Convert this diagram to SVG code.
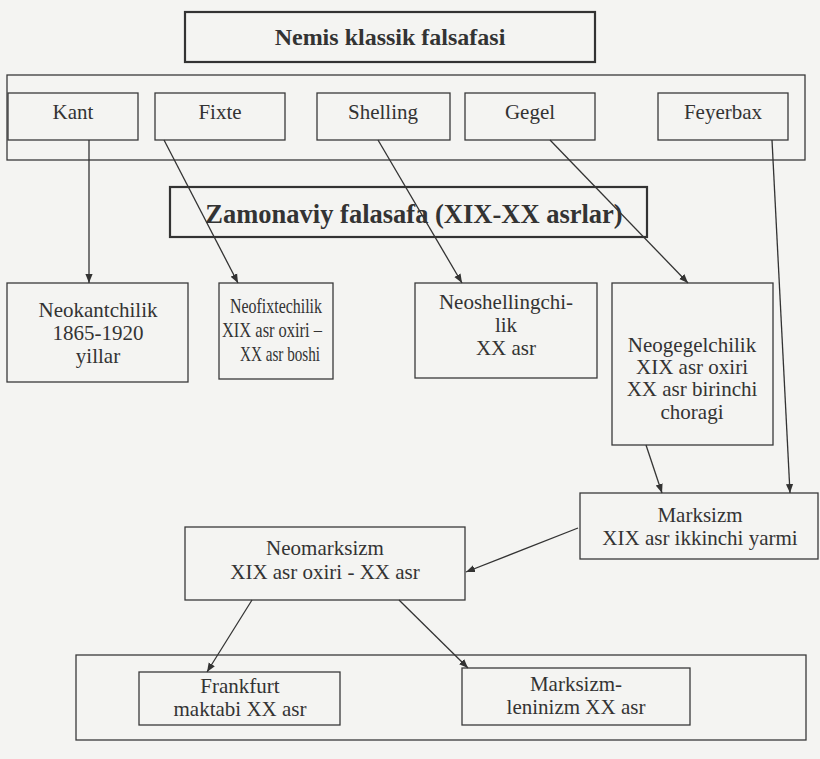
<svg xmlns="http://www.w3.org/2000/svg" width="820" height="759" viewBox="0 0 820 759">
<defs>
<style>
.box{fill:none;stroke:#3a3a3a;stroke-width:1.3}
.tbox{fill:none;stroke:#333;stroke-width:2.2}
.t{font-family:"Liberation Serif","Times New Roman",serif;font-size:21px;fill:#333;text-anchor:middle}
.b{font-family:"Liberation Serif","Times New Roman",serif;font-weight:bold;fill:#333;text-anchor:middle}
.c{stroke:#333;stroke-width:1.3;fill:none;marker-end:url(#ah)}
</style>
<marker id="ah" viewBox="0 0 10 10" refX="10" refY="5" markerWidth="9" markerHeight="9" markerUnits="userSpaceOnUse" orient="auto">
<path d="M0,1 L10,5 L0,9 Z" fill="#333"/>
</marker>
</defs>
<rect width="820" height="759" fill="#f4f4f2"/>
<g id="title"><rect class="tbox" x="185" y="12" width="410" height="50"/><text class="b" x="390" y="45" font-size="24">Nemis klassik falsafasi</text></g>
<g id="classics"><rect class="box" x="7" y="75" width="798" height="85"/></g>
<g id="kant"><rect class="box" x="8" y="93" width="130" height="47"/><text class="t" x="73" y="119">Kant</text></g>
<g id="fixte"><rect class="box" x="155" y="93" width="130" height="47"/><text class="t" x="220" y="119">Fixte</text></g>
<g id="shelling"><rect class="box" x="317" y="93" width="133" height="47"/><text class="t" x="383" y="119">Shelling</text></g>
<g id="gegel"><rect class="box" x="465" y="93" width="130" height="47"/><text class="t" x="530" y="119">Gegel</text></g>
<g id="feyerbax"><rect class="box" x="658" y="93" width="130" height="47"/><text class="t" x="723" y="119">Feyerbax</text></g>
<g id="zamonaviy"><rect class="tbox" x="170" y="187" width="477" height="50"/><text class="b" x="414" y="223" font-size="26.5">Zamonaviy falasafa (XIX-XX asrlar)</text></g>
<g id="neokant"><rect class="box" x="7" y="283" width="181" height="99"/><text class="t" x="98" y="317">Neokantchilik</text><text class="t" x="98" y="340">1865-1920</text><text class="t" x="98" y="363">yillar</text></g>
<g id="neofixte"><rect class="box" x="219" y="283" width="114" height="96"/><text class="t" x="276" y="313" font-size="20" textLength="92" lengthAdjust="spacingAndGlyphs">Neofixtechilik</text><text class="t" x="272" y="337" font-size="20" textLength="100" lengthAdjust="spacingAndGlyphs">XIX asr oxiri –</text><text class="t" x="280" y="361" font-size="20" textLength="80" lengthAdjust="spacingAndGlyphs">XX asr boshi</text></g>
<g id="neoshelling"><rect class="box" x="415" y="283" width="182" height="95"/><text class="t" x="506" y="309">Neoshellingchi-</text><text class="t" x="506" y="332">lik</text><text class="t" x="506" y="355">XX asr</text></g>
<g id="neogegel"><rect class="box" x="612" y="283" width="161" height="162"/><text class="t" x="692" y="352" font-size="20.5">Neogegelchilik</text><text class="t" x="692" y="374" font-size="20.5">XIX asr oxiri</text><text class="t" x="692" y="396" font-size="20.5">XX asr birinchi</text><text class="t" x="692" y="419" font-size="20.5">choragi</text></g>
<g id="marksizm"><rect class="box" x="580" y="493" width="238" height="66"/><text class="t" x="700" y="522">Marksizm</text><text class="t" x="700" y="545">XIX asr ikkinchi yarmi</text></g>
<g id="neomarksizm"><rect class="box" x="185" y="527" width="280" height="73"/><text class="t" x="325" y="555">Neomarksizm</text><text class="t" x="325" y="579">XIX asr oxiri - XX asr</text></g>
<g id="bottom"><rect class="box" x="76" y="655" width="730" height="85"/></g>
<g id="frankfurt"><rect class="box" x="139" y="672" width="201" height="53"/><text class="t" x="240" y="693">Frankfurt</text><text class="t" x="240" y="716">maktabi XX asr</text></g>
<g id="leninizm"><rect class="box" x="462" y="668" width="228" height="57"/><text class="t" x="576" y="691">Marksizm-</text><text class="t" x="576" y="714">leninizm XX asr</text></g>
<g id="connectors">
<line class="c" x1="89" y1="140" x2="89" y2="283"/>
<line class="c" x1="164" y1="140" x2="238" y2="283"/>
<line class="c" x1="378" y1="140" x2="462" y2="283"/>
<line class="c" x1="550" y1="140" x2="688" y2="283"/>
<line class="c" x1="772" y1="140" x2="790" y2="493"/>
<line class="c" x1="646" y1="445" x2="662" y2="493"/>
<line class="c" x1="578" y1="528" x2="466" y2="572"/>
<line class="c" x1="252" y1="600" x2="207" y2="672"/>
<line class="c" x1="399" y1="600" x2="468" y2="668"/>
</g>
</svg>
